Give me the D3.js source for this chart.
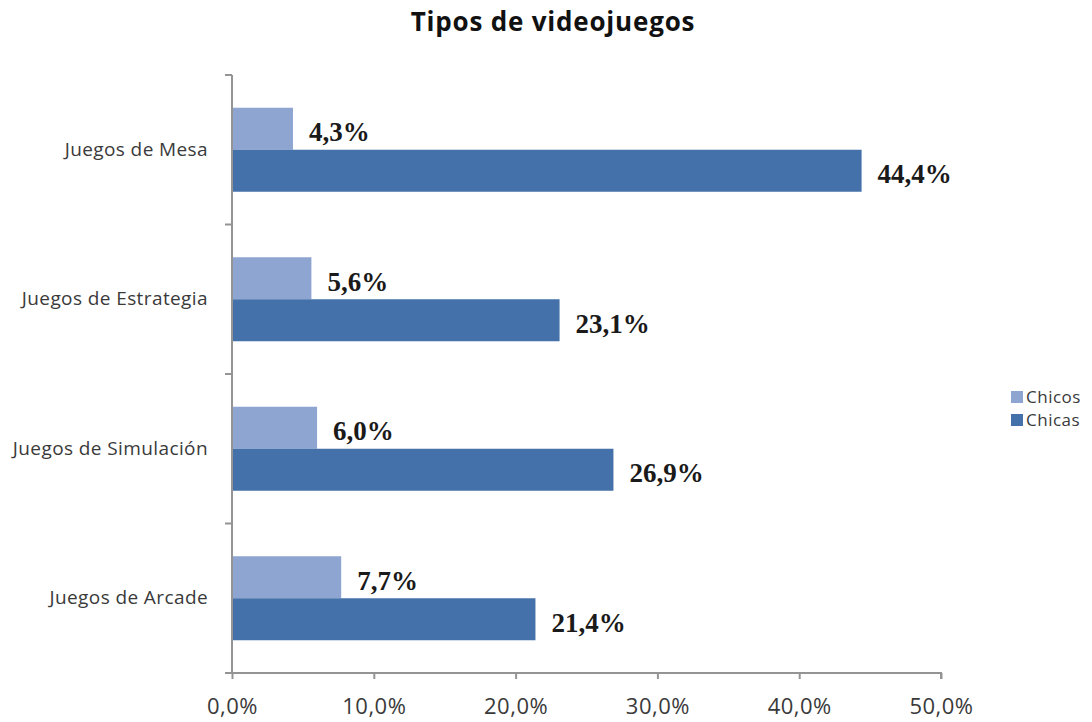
<!DOCTYPE html>
<html>
<head>
<meta charset="utf-8">
<script src="https://cdn.jsdelivr.net/npm/d3@7"></script>
<style>
  body { margin: 0; background: #fff; }
</style>
</head>
<body>
<div id="chart"></div>
<script>
// Data
var categories = ["Juegos de Mesa", "Juegos de Estrategia", "Juegos de Simulación", "Juegos de Arcade"];
var seriesNames = ["Chicos", "Chicas"];
var chicos = [4.3, 5.6, 6.0, 7.7];
var chicas = [44.4, 23.1, 26.9, 21.4];
var xTicks = [0, 10, 20, 30, 40, 50];

var colors = {Chicos: "#8DA5D0", Chicas: "#4471AA"};

var data = categories.map(function(c, i) {
  return {cat: c, values: [{name: "Chicos", v: chicos[i]}, {name: "Chicas", v: chicas[i]}]};
});

var W = 1092, H = 722;
var margin = {top: 75, right: 151, bottom: 49, left: 232},
    width = W - margin.left - margin.right,
    height = H - margin.top - margin.bottom;

var svg = d3.select("#chart")
  .append("svg")
    .attr("width", W)
    .attr("height", H)
  .append("g")
    .attr("transform", "translate(" + margin.left + "," + margin.top + ")");

var x = d3.scaleLinear().domain([0, 50]).range([0, width]);
var y = d3.scaleBand().domain(categories).range([0, height]).padding(0);
var bw = 42;
var inner = d3.scaleBand().domain(seriesNames)
  .range([(y.bandwidth() - 2 * bw) / 2, (y.bandwidth() + 2 * bw) / 2]);

var fmt = function(v) { return v.toFixed(1).replace(".", ",") + "%"; };

// Bars
var groups = svg.selectAll(".grp")
  .data(data)
  .enter().append("g")
    .attr("transform", function(d) { return "translate(0," + y(d.cat) + ")"; });

groups.selectAll("rect")
  .data(function(d) { return d.values; })
  .enter().append("rect")
    .attr("x", 0)
    .attr("y", function(d) { return inner(d.name); })
    .attr("width", function(d) { return x(d.v); })
    .attr("height", inner.bandwidth())
    .attr("fill", function(d) { return colors[d.name]; });

groups.selectAll(".lbl")
  .data(function(d) { return d.values; })
  .enter().append("text")
    .attr("class", "lbl")
    .attr("x", function(d) { return x(d.v) + 16; })
    .attr("y", function(d) { return inner(d.name) + inner.bandwidth() / 2 + 3; })
    .attr("dy", "0.35em")
    .attr("font-family", "Liberation Serif, serif")
    .attr("font-weight", "bold")
    .attr("font-size", "27px")
    .attr("fill", "#1a1a1a")
    .text(function(d) { return fmt(d.v); });

// X axis
var xAxis = svg.append("g")
  .attr("transform", "translate(0," + height + ")")
  .call(d3.axisBottom(x).tickValues(xTicks).tickSize(6).tickPadding(19)
    .tickFormat(function(d) { return d.toFixed(1).replace(".", ",") + "%"; }));
xAxis.selectAll("path, line").attr("stroke", "#949494").attr("stroke-width", 2);
xAxis.select(".domain").attr("d", "M0,0H" + width + "V6");
xAxis.selectAll("text")
  .attr("font-family", "Open Sans, sans-serif")
  .attr("font-size", "22px")
  .attr("letter-spacing", "0.5px")
  .attr("fill", "#3a3a3a");

// Y axis: labels at band centres, ticks at band boundaries
var yAxis = svg.append("g")
  .call(d3.axisLeft(y).tickSize(0).tickPadding(24));
yAxis.select(".domain").attr("stroke", "#949494").attr("stroke-width", 2)
  .attr("d", "M0,0V" + height);
yAxis.selectAll("text")
  .attr("font-family", "Open Sans, sans-serif")
  .attr("font-size", "19px")
  .attr("letter-spacing", "0.4px")
  .attr("fill", "#3a3a3a");

var bounds = categories.map(function(c) { return y(c); }).concat([height]);
svg.selectAll(".ytick")
  .data(bounds)
  .enter().append("line")
    .attr("x1", -7).attr("x2", 0)
    .attr("y1", function(d) { return d; })
    .attr("y2", function(d) { return d; })
    .attr("stroke", "#949494")
    .attr("stroke-width", 2);

// Legend
var legend = svg.append("g")
  .attr("transform", "translate(" + (1011 - margin.left) + "," + (391 - margin.top) + ")");
seriesNames.forEach(function(s, i) {
  legend.append("rect")
    .attr("x", 0).attr("y", i * 23)
    .attr("width", 12).attr("height", 12)
    .attr("fill", colors[s]);
  legend.append("text")
    .attr("x", 15).attr("y", i * 23 + 6)
    .attr("dy", "0.35em")
    .attr("font-family", "Open Sans, sans-serif")
    .attr("font-size", "17px")
    .attr("letter-spacing", "0.5px")
    .attr("fill", "#3a3a3a")
    .text(s);
});

// Title
svg.append("text")
  .attr("x", 553 - margin.left)
  .attr("y", 31 - margin.top)
  .attr("text-anchor", "middle")
  .attr("font-family", "Open Sans, sans-serif")
  .attr("font-weight", "bold")
  .attr("font-size", "26px")
  .attr("letter-spacing", "0.8px")
  .attr("fill", "#111")
  .text("Tipos de videojuegos");
</script>
</body>
</html>
